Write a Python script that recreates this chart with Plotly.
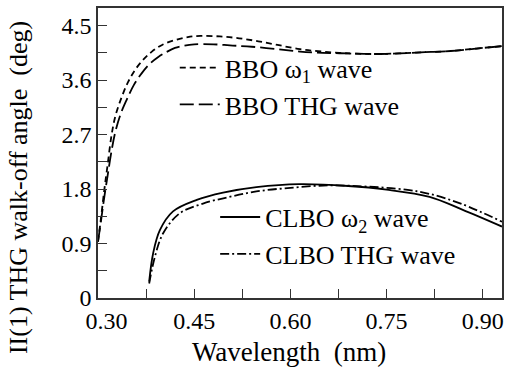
import plotly.graph_objects as go

# ---- data ----
bbo_w1_x = [0.300, 0.305, 0.310, 0.315, 0.321, 0.327, 0.337, 0.347, 0.358, 0.370, 0.384, 0.400,
            0.420, 0.440, 0.460, 0.490, 0.520, 0.550, 0.580, 0.615, 0.650, 0.690, 0.730, 0.770,
            0.810, 0.850, 0.890, 0.930]
bbo_w1_y = [0.93, 1.35, 1.80, 2.20, 2.68, 3.00, 3.32, 3.57, 3.77, 3.93, 4.07, 4.18,
            4.26, 4.31, 4.33, 4.32, 4.29, 4.24, 4.18, 4.11, 4.07, 4.04, 4.03, 4.04,
            4.06, 4.08, 4.12, 4.16]

bbo_thg_x = [0.300, 0.305, 0.310, 0.315, 0.320, 0.3265, 0.335, 0.345, 0.356, 0.368, 0.380, 0.394,
             0.408, 0.420, 0.435, 0.450, 0.480, 0.510, 0.540, 0.580, 0.615, 0.650, 0.690, 0.730,
             0.770, 0.810, 0.850, 0.890, 0.930]
bbo_thg_y = [0.93, 1.30, 1.68, 2.02, 2.36, 2.72, 3.03, 3.28, 3.52, 3.71, 3.86, 3.98,
             4.07, 4.13, 4.17, 4.19, 4.19, 4.17, 4.15, 4.11, 4.07, 4.05, 4.04, 4.03,
             4.04, 4.06, 4.08, 4.12, 4.16]

clbo_w2_x = [0.3798, 0.386, 0.3965, 0.417, 0.454, 0.495, 0.547, 0.614, 0.690, 0.750, 0.817, 0.868, 0.930]
clbo_w2_y = [0.27, 0.74, 1.12, 1.43, 1.62, 1.74, 1.83, 1.88, 1.85, 1.79, 1.67, 1.46, 1.18]

clbo_thg_x = [0.3798, 0.3887, 0.4016, 0.4276, 0.4638, 0.505, 0.547, 0.600, 0.660, 0.720, 0.780, 0.817, 0.868, 0.930]
clbo_thg_y = [0.24, 0.68, 1.07, 1.40, 1.56, 1.67, 1.76, 1.82, 1.86, 1.84, 1.79, 1.72, 1.55, 1.26]

x_tickvals = [0.30, 0.45, 0.60, 0.75, 0.90]
x_ticktext = ["\u2007\u20090.30", "0.45", "0.60", "0.75", "0.90"]
y_tickvals = [0, 0.9, 1.8, 2.7, 3.6, 4.5]
y_ticktext = ["0", "0.9", "1.8", "2.7", "3.6", "4.5"]

x_title = "Wavelength  (nm)"
y_title = "II(1) THG walk-off angle  (deg)"

FONT = "Liberation Serif"

fig = go.Figure()
fig.add_trace(go.Scatter(x=bbo_w1_x, y=bbo_w1_y, mode="lines", name="BBO ω<sub>1</sub> wave",
                         line=dict(color="black", width=1.8, dash="6px,4px", shape="spline"),
                         legend="legend"))
fig.add_trace(go.Scatter(x=bbo_thg_x, y=bbo_thg_y, mode="lines", name="BBO THG wave",
                         line=dict(color="black", width=1.8, dash="14px,5px", shape="spline"),
                         legend="legend"))
fig.add_trace(go.Scatter(x=clbo_w2_x, y=clbo_w2_y, mode="lines", name="CLBO ω<sub>2</sub> wave",
                         line=dict(color="black", width=1.8, shape="spline"),
                         legend="legend2"))
fig.add_trace(go.Scatter(x=clbo_thg_x, y=clbo_thg_y, mode="lines", name="CLBO THG wave",
                         line=dict(color="black", width=1.8, dash="9px,3px,2px,3px", shape="spline"),
                         legend="legend2"))

axis_common = dict(showline=True, linecolor="#333", linewidth=1.5, mirror=True,
                   ticks="inside", ticklen=9, tickwidth=1.3, tickcolor="#333",
                   showgrid=False, zeroline=False, automargin=False,
                   tickfont=dict(family=FONT, size=24, color="black"))

fig.update_xaxes(range=[0.30, 0.93], tickvals=x_tickvals, ticktext=x_ticktext,
                 minor=dict(dtick=0.075, tick0=0.30, ticks="inside", ticklen=9, tickwidth=1.3, tickcolor="#333"),
                 **axis_common)
fig.update_yaxes(range=[0, 4.79], tickvals=y_tickvals, ticktext=y_ticktext,
                 minor=dict(dtick=0.45, tick0=0, ticks="inside", ticklen=9, tickwidth=1.3, tickcolor="#333"),
                 **axis_common)

# axis titles as annotations so they sit where the reference puts them
fig.add_annotation(text=x_title, xref="paper", yref="paper", x=0.473, y=-0.186,
                   xanchor="center", yanchor="middle", showarrow=False,
                   font=dict(family=FONT, size=27, color="black"))
fig.add_annotation(text=y_title, xref="paper", yref="paper", x=-0.198, y=0.379,
                   xanchor="center", yanchor="middle", textangle=-90, showarrow=False,
                   font=dict(family=FONT, size=26, color="black"))

legend_common = dict(font=dict(family=FONT, size=26, color="black"), bgcolor="rgba(0,0,0,0)",
                     borderwidth=0, xanchor="left", yanchor="top", itemwidth=40,
                     tracegroupgap=0)
fig.update_layout(
    width=506, height=369,
    margin=dict(l=98, r=4, t=8, b=71),
    paper_bgcolor="white", plot_bgcolor="white",
    showlegend=True,
    legend=dict(x=0.19, y=0.875, **legend_common),
    legend2=dict(x=0.29, y=0.36, **legend_common),
)

fig.write_html("out.html", config={"displayModeBar": False},
               post_script="document.body.style.margin='0';document.body.style.overflow='hidden';")
